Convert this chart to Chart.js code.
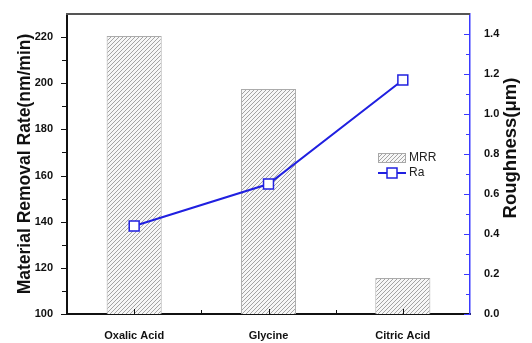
<!DOCTYPE html>
<html>
<head>
<meta charset="utf-8">
<script src="https://cdn.jsdelivr.net/npm/chart.js@4"></script>
<style>
  html, body { margin: 0; padding: 0; background: #fff; }
  #wrap { width: 532px; height: 343px; }
</style>
</head>
<body>
<div id="wrap"><canvas id="mrr"></canvas></div>
<script>
/* MRR / roughness chart */

const categories = ['Oxalic Acid', 'Glycine', 'Citric Acid']
const mrr = [220.5, 197.5, 115.6]
const ra = [0.44, 0.65, 1.17]

const leftTicks = [100, 120, 140, 160, 180, 200, 220]
const rightTicks = [0, 0.2, 0.4, 0.6, 0.8, 1.0, 1.2, 1.4]

const Text = {
  LEFT: 'Material Removal Rate(nm/min)',
  RIGHT: 'Roughness(\u03bcm)',
  MRR: 'MRR',
  RA: 'Ra'
}

const FONT = '"Liberation Sans", Arial, sans-serif'
const BLUE = '#2020e0'
const AXIS_BLUE = '#3a3aff'

const canvas = document.getElementById('mrr')
const ctx0 = canvas.getContext('2d')

// diagonal hatch fill for the bars
function makeHatch(ctx) {
  const s = 4
  const c = document.createElement('canvas')
  c.width = s
  c.height = s
  const g = c.getContext('2d')
  g.fillStyle = '#f7f7f7'
  g.fillRect(0, 0, s, s)
  g.strokeStyle = '#a4a4a4'
  g.lineWidth = 1
  g.beginPath()
  g.moveTo(0, s); g.lineTo(s, 0)
  g.moveTo(-1, 1); g.lineTo(1, -1)
  g.moveTo(s - 1, s + 1); g.lineTo(s + 1, s - 1)
  g.stroke()
  return ctx.createPattern(c, 'repeat')
}
const hatch = makeHatch(ctx0)

// tick marks, top frame line, right title and legend
const decorations = {
  id: 'decorations',
  afterDraw(chart) {
    const { ctx, chartArea: a, scales } = chart
    const y = scales.y, y1 = scales.y1, x = scales.x
    ctx.save()

    // top frame
    ctx.strokeStyle = '#555'
    ctx.lineWidth = 2
    ctx.beginPath()
    ctx.moveTo(a.left - 1, a.top)
    ctx.lineTo(a.right, a.top)
    ctx.stroke()

    // left axis: outward ticks every 10
    ctx.strokeStyle = '#111'
    ctx.lineWidth = 1
    ctx.beginPath()
    for (let v = 100; v <= 220; v += 10) {
      const py = Math.round(y.getPixelForValue(v)) + 0.5
      const len = v % 20 === 0 ? 5 : 4
      ctx.moveTo(a.left - 1 - len, py)
      ctx.lineTo(a.left, py)
    }
    ctx.stroke()

    // right axis: inward ticks every 0.1
    ctx.strokeStyle = AXIS_BLUE
    ctx.beginPath()
    for (let i = 0; i <= 14; i++) {
      const py = Math.round(y1.getPixelForValue(i / 10)) + 0.5
      const len = i % 2 === 0 ? 6 : 4
      ctx.moveTo(a.right, py)
      ctx.lineTo(a.right - len, py)
    }
    ctx.stroke()

    // bottom axis: inward ticks at centres and between categories
    ctx.strokeStyle = '#111'
    ctx.beginPath()
    for (let i = 0; i < categories.length; i++) {
      const px = Math.round(x.getPixelForValue(i)) + 0.5
      ctx.moveTo(px, a.bottom)
      ctx.lineTo(px, a.bottom - 5)
      if (i < categories.length - 1) {
        const mid = Math.round((x.getPixelForValue(i) + x.getPixelForValue(i + 1)) / 2) + 0.5
        ctx.moveTo(mid, a.bottom)
        ctx.lineTo(mid, a.bottom - 4)
      }
    }
    ctx.stroke()

    // right axis title, reading upwards
    ctx.fillStyle = '#111'
    ctx.font = 'bold 18.5px ' + FONT
    ctx.textAlign = 'center'
    ctx.textBaseline = 'middle'
    ctx.translate(511, 148)
    ctx.rotate(-Math.PI / 2)
    ctx.fillText(Text.RIGHT, 0, 0)
    ctx.setTransform(1, 0, 0, 1, 0, 0)

    // legend
    const lx = 378, ly = 153
    ctx.fillStyle = hatch
    ctx.fillRect(lx, ly, 28, 10)
    ctx.strokeStyle = '#a8a8a8'
    ctx.lineWidth = 1
    ctx.strokeRect(lx + 0.5, ly + 0.5, 27, 9)

    ctx.strokeStyle = BLUE
    ctx.lineWidth = 2
    ctx.beginPath()
    ctx.moveTo(lx, ly + 20)
    ctx.lineTo(lx + 28, ly + 20)
    ctx.stroke()
    ctx.fillStyle = '#fff'
    ctx.lineWidth = 1.5
    ctx.fillRect(lx + 9, ly + 15, 10, 10)
    ctx.strokeRect(lx + 9, ly + 15, 10, 10)

    ctx.fillStyle = '#222'
    ctx.font = '12px ' + FONT
    ctx.textAlign = 'left'
    ctx.textBaseline = 'middle'
    ctx.fillText(chart.data.datasets[0].label, lx + 31, ly + 5)
    ctx.fillText(chart.data.datasets[1].label, lx + 31, ly + 20)

    ctx.restore()
  }
}

new Chart(canvas, {
  type: 'bar',
  data: {
    labels: categories,
    datasets: [
      {
        label: Text.MRR,
        data: mrr,
        yAxisID: 'y',
        backgroundColor: hatch,
        borderColor: '#ababab',
        borderWidth: 1,
        borderSkipped: 'bottom',
        barPercentage: 0.41,
        categoryPercentage: 1.0,
        order: 2
      },
      {
        type: 'line',
        label: Text.RA,
        data: ra,
        yAxisID: 'y1',
        borderColor: BLUE,
        borderWidth: 2,
        pointStyle: 'rect',
        pointRadius: 7,
        pointBorderWidth: 1.5,
        pointBackgroundColor: '#fff',
        pointBorderColor: BLUE,
        tension: 0,
        order: 1
      }
    ]
  },
  options: {
    responsive: true,
    maintainAspectRatio: false,
    animation: false,
    layout: { padding: { top: 14, left: 0, right: 0, bottom: 0 } },
    plugins: {
      legend: { display: false },
      tooltip: { enabled: false },
      title: { display: false }
    },
    scales: {
      x: {
        type: 'category',
        offset: true,
        grid: { display: false },
        border: { color: '#111', width: 2 },
        ticks: {
          padding: 7,
          color: '#111',
          font: { family: FONT, size: 11, weight: 'bold' }
        },
        afterFit(scale) { scale.height = 29 }
      },
      y: {
        position: 'left',
        min: 100,
        max: 230,
        grid: { display: false },
        border: { color: '#111', width: 2 },
        ticks: {
          stepSize: 20,
          padding: 6,
          color: '#111',
          font: { family: FONT, size: 11, weight: 'bold' },
          callback: v => leftTicks.includes(v) ? String(v) : ''
        },
        title: {
          display: true,
          text: Text.LEFT,
          color: '#111',
          padding: { top: 15, bottom: 0 },
          font: { family: FONT, size: 17.5, weight: 'bold' }
        },
        afterFit(scale) { scale.width = 67 }
      },
      y1: {
        position: 'right',
        min: 0,
        max: 1.5,
        grid: { display: false },
        border: { color: AXIS_BLUE, width: 1.5 },
        ticks: {
          stepSize: 0.2,
          padding: 6,
          color: '#111',
          font: { family: FONT, size: 11, weight: 'bold' },
          callback: v => rightTicks.some(t => Math.abs(t - v) < 1e-6) ? v.toFixed(1) : ''
        },
        afterFit(scale) { scale.width = 62 }
      }
    }
  },
  plugins: [decorations]
})
</script>
</body>
</html>
